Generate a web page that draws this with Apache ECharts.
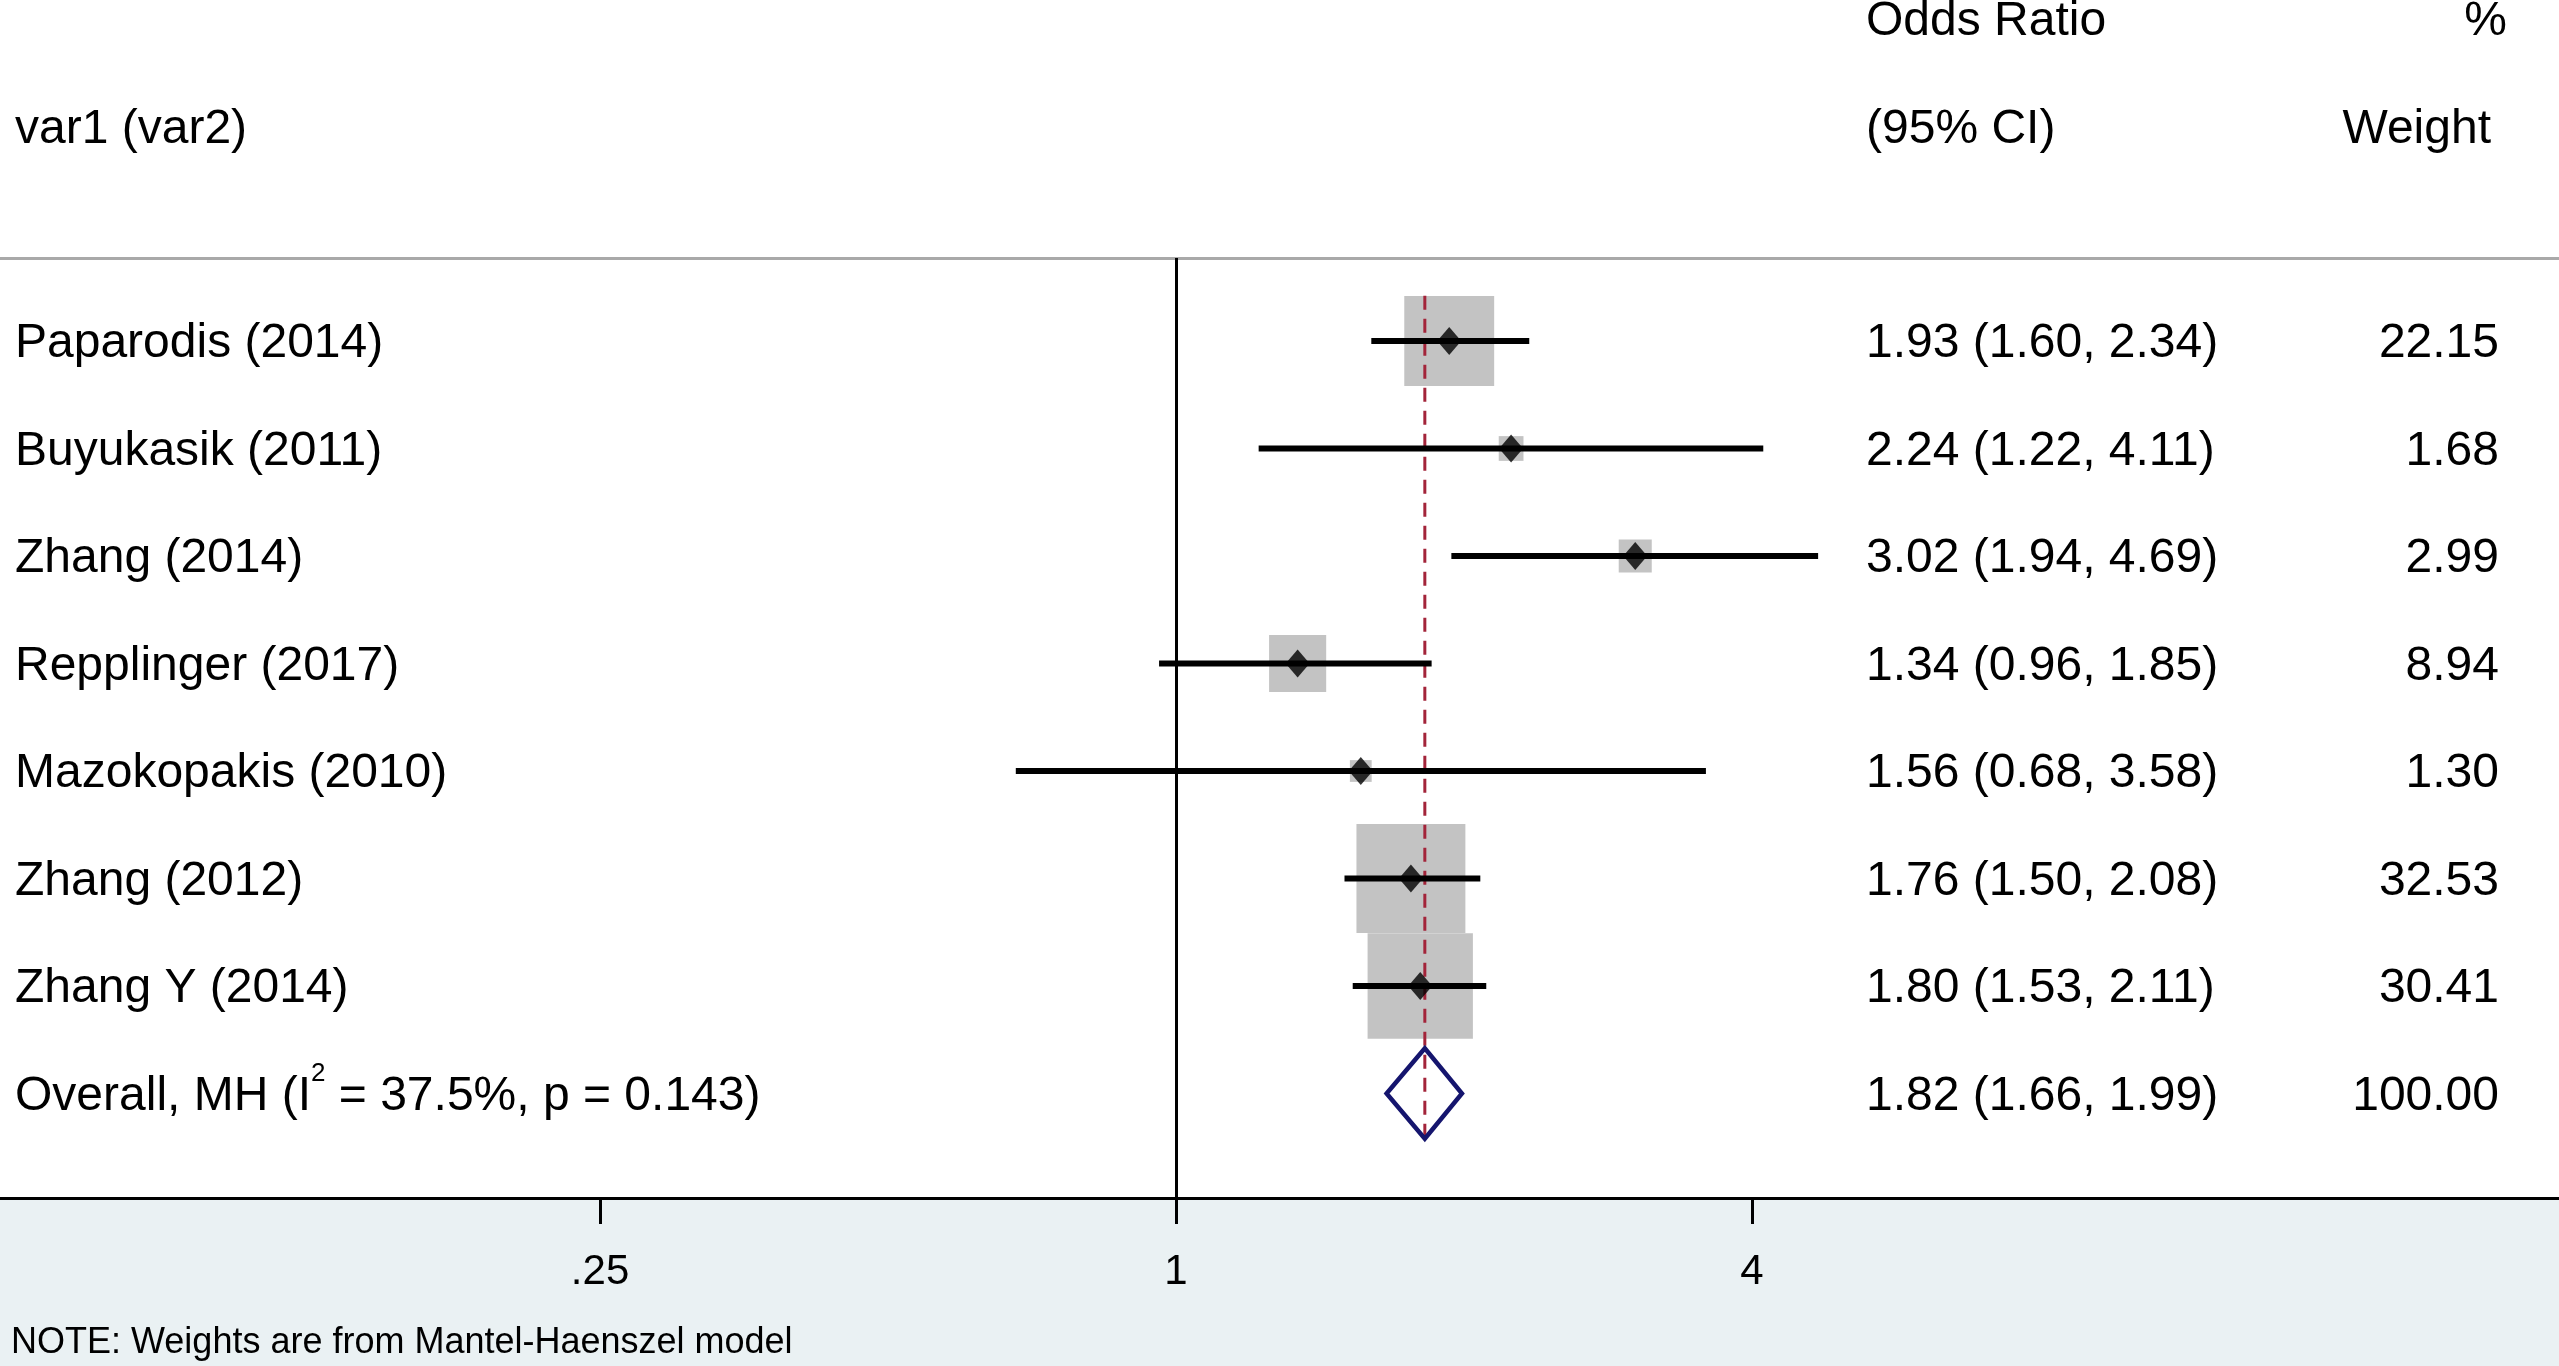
<!DOCTYPE html>
<html>
<head>
<meta charset="utf-8">
<script src="https://cdn.jsdelivr.net/npm/echarts@6/dist/echarts.min.js"></script>
<style>
  html, body { margin: 0; padding: 0; background: #fff; }
  #forest { width: 2559px; height: 1366px; }
</style>
</head>
<body>
<div id="forest"></div>
<script>
// studies, odds ratios, 95% CI and MH weights
var studies = ['Paparodis (2014)', 'Buyukasik (2011)', 'Zhang (2014)', 'Repplinger (2017)',
  'Mazokopakis (2010)', 'Zhang (2012)', 'Zhang Y (2014)'];
var oddsRatio = [1.93, 2.24, 3.02, 1.34, 1.56, 1.76, 1.80];
var ciLow = [1.60, 1.22, 1.94, 0.96, 0.68, 1.50, 1.53];
var ciHigh = [2.34, 4.11, 4.69, 1.85, 3.58, 2.08, 2.11];
var weights = [22.15, 1.68, 2.99, 8.94, 1.30, 32.53, 30.41];

var overallOR = [1.82, 1.66, 1.99]; // estimate, low, high
var overallWeight = 100.00;
var i2 = '37.5%';
var pHet = '0.143';

var xTicks = [0.25, 1, 4];
var xTickLabels = ['.25', '1', '4'];

var FONT = 'Liberation Sans';
var nRows = studies.length + 1;
var overallRow = studies.length;
var rowIdx = [];
for (var i = 0; i < nRows; i++) rowIdx.push(i);

function fmt(v) { return v.toFixed(2); }

var ciText = oddsRatio.map(function (v, i) {
  return fmt(v) + ' (' + fmt(ciLow[i]) + ', ' + fmt(ciHigh[i]) + ')';
});
ciText.push(fmt(overallOR[0]) + ' (' + fmt(overallOR[1]) + ', ' + fmt(overallOR[2]) + ')');
var wText = weights.map(fmt);
wText.push(fmt(overallWeight));

var squares = oddsRatio.map(function (v, i) { return [v, i, weights[i]]; });
var points = oddsRatio.map(function (v, i) { return [v, i]; });
var ciData = oddsRatio.map(function (v, i) { return [ciLow[i], ciHigh[i], i]; });

var chart = echarts.init(document.getElementById('forest'));

var labelBase = { fontFamily: FONT, fontSize: 48, color: '#000' };
var richRow = {
  a: labelBase,
  s: { fontFamily: FONT, fontSize: 26, color: '#000', padding: [0, 0, 46, 0] }
};

chart.setOption({
  animation: false,
  backgroundColor: '#fff',
  textStyle: { fontFamily: FONT },
  grid: { left: 0, right: 0, top: 258, bottom: 168 },
  xAxis: [
    {
      type: 'log',
      logBase: 4,
      min: 0.05898,
      max: 27.9,
      position: 'bottom',
      axisLine: { show: true, onZero: false, lineStyle: { color: '#000', width: 3 } },
      axisTick: { show: true, customValues: xTicks, length: 26, lineStyle: { color: '#000', width: 3 } },
      axisLabel: {
        customValues: xTicks,
        margin: 53,
        fontFamily: FONT, fontSize: 42, color: '#000',
        formatter: function (v) {
          var k = xTicks.indexOf(+v);
          return k >= 0 ? xTickLabels[k] : '';
        }
      },
      splitLine: { show: false },
      minorTick: { show: false }
    },
    {
      type: 'value',
      position: 'top',
      min: 0, max: 1,
      axisLine: { show: true, onZero: false, lineStyle: { color: '#a9a9a9', width: 3 } },
      axisTick: { show: false },
      axisLabel: { show: false },
      splitLine: { show: false }
    }
  ],
  yAxis: [
    {
      type: 'value', inverse: true, min: -0.772, max: 7.972,
      position: 'left', offset: 0,
      axisLine: { show: false }, axisTick: { show: false }, splitLine: { show: false },
      axisLabel: {
        customValues: rowIdx, inside: true, align: 'left', margin: 15,
        padding: [6, 0, 0, 0],
        fontFamily: FONT, fontSize: 48, color: '#000',
        formatter: function (v) {
          if (v === overallRow) {
            return '{a|Overall, MH (I}{s|2}{a| = ' + i2 + ', p = ' + pHet + ')}';
          }
          return '{a|' + studies[v] + '}';
        },
        rich: richRow
      }
    },
    {
      type: 'value', inverse: true, min: -0.772, max: 7.972,
      position: 'right', offset: -693,
      axisLine: { show: false }, axisTick: { show: false }, splitLine: { show: false },
      axisLabel: {
        customValues: rowIdx, align: 'left', margin: 0,
        padding: [6, 0, 0, 0],
        fontFamily: FONT, fontSize: 48, color: '#000',
        formatter: function (v) { return '{a|' + ciText[v] + '}'; },
        rich: richRow
      }
    },
    {
      type: 'value', inverse: true, min: -0.772, max: 7.972,
      position: 'right', offset: -60,
      axisLine: { show: false }, axisTick: { show: false }, splitLine: { show: false },
      axisLabel: {
        customValues: rowIdx, inside: true, align: 'right', margin: 0,
        padding: [6, 0, 0, 0],
        fontFamily: FONT, fontSize: 48, color: '#000',
        formatter: function (v) { return '{a|' + wText[v] + '}'; },
        rich: richRow
      }
    }
  ],
  series: [
    {
      name: 'weight',
      type: 'scatter',
      z: 2,
      symbol: 'rect',
      symbolSize: function (v) { return 19.1 * Math.sqrt(v[2]); },
      itemStyle: { color: '#b4b4b4' },
      data: squares,
      markLine: {
        silent: true,
        symbol: 'none',
        label: { show: false },
        lineStyle: { color: '#000', width: 3, type: 'solid' },
        data: [{ xAxis: 1 }]
      }
    },
    {
      name: 'overall line',
      type: 'custom',
      z: 3,
      renderItem: function (params, api) {
        var a = api.coord([api.value(0), api.value(1)]);
        var b = api.coord([api.value(0), api.value(2)]);
        return {
          type: 'line',
          shape: { x1: a[0], y1: a[1], x2: b[0], y2: b[1] },
          style: { stroke: '#a3243a', lineWidth: 3, lineDash: [14, 9] }
        };
      },
      data: [[overallOR[0], -0.42, overallRow + 0.48]]
    },
    {
      name: 'ci',
      type: 'custom',
      z: 4,
      renderItem: function (params, api) {
        var a = api.coord([api.value(0), api.value(2)]);
        var b = api.coord([api.value(1), api.value(2)]);
        return {
          type: 'line',
          shape: { x1: a[0], y1: a[1], x2: b[0], y2: b[1] },
          style: { stroke: '#000', lineWidth: 6 }
        };
      },
      data: ciData
    },
    {
      name: 'estimate',
      type: 'scatter',
      z: 5,
      symbol: 'diamond',
      symbolSize: [24, 28],
      itemStyle: { color: '#000' },
      data: points
    },
    {
      name: 'overall',
      type: 'custom',
      z: 6,
      renderItem: function (params, api) {
        var row = api.value(3), h = 0.42;
        var p1 = api.coord([api.value(1), row]);
        var p2 = api.coord([api.value(0), row - h]);
        var p3 = api.coord([api.value(2), row]);
        var p4 = api.coord([api.value(0), row + h]);
        return {
          type: 'polygon',
          shape: { points: [p1, p2, p3, p4] },
          style: { fill: null, stroke: '#15156e', lineWidth: 4.5, lineJoin: 'miter' }
        };
      },
      data: [[overallOR[0], overallOR[1], overallOR[2], overallRow]]
    }
  ],
  graphic: [
    {
      type: 'rect', z: -100, silent: true,
      shape: { x: 0, y: 1198, width: 2559, height: 168 },
      style: { fill: '#eaf1f3' }
    },
    { type: 'text', x: 15, y: 130, style: { text: 'var1 (var2)', font: '48px "Liberation Sans"', fill: '#000', textAlign: 'left', textVerticalAlign: 'middle' } },
    { type: 'text', x: 1866, y: 22, style: { text: 'Odds Ratio', font: '48px "Liberation Sans"', fill: '#000', textAlign: 'left', textVerticalAlign: 'middle' } },
    { type: 'text', x: 1866, y: 130, style: { text: '(95% CI)', font: '48px "Liberation Sans"', fill: '#000', textAlign: 'left', textVerticalAlign: 'middle' } },
    { type: 'text', x: 2507, y: 22, style: { text: '%', font: '48px "Liberation Sans"', fill: '#000', textAlign: 'right', textVerticalAlign: 'middle' } },
    { type: 'text', x: 2491, y: 130, style: { text: 'Weight', font: '48px "Liberation Sans"', fill: '#000', textAlign: 'right', textVerticalAlign: 'middle' } },
    { type: 'text', x: 11, y: 1343, style: { text: 'NOTE: Weights are from Mantel-Haenszel model', font: '36px "Liberation Sans"', fill: '#000', textAlign: 'left', textVerticalAlign: 'middle' } }
  ]
});
</script>
</body>
</html>
